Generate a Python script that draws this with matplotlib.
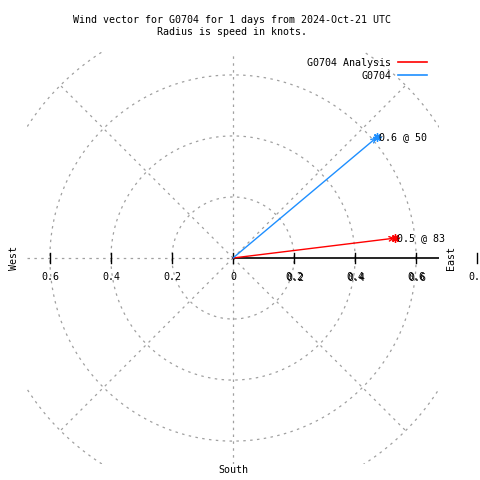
import numpy as np
import matplotlib.pyplot as plt

# wind vectors: speed in knots, direction in degrees (clockwise from north)
names = ['G0704 Analysis', 'G0704']
speeds = [0.535, 0.615]
directions = [83, 50]
colors = ['#ff0000', '#1e8fff']

rings = [0.2, 0.4, 0.6, 0.8]
left_ticks = [0.6, 0.4, 0.2]
r_ticks = [0, 0.2, 0.4, 0.6, 0.8]

title = 'Wind vector for G0704 for 1 days from 2024-Oct-21 UTC\nRadius is speed in knots.'

plt.rcParams['font.family'] = 'DejaVu Sans Mono'
fs = 7.2
grid_kw = dict(color='#a0a0a0', lw=0.9, ls=(0, (2, 3.5)))


def main():
    fig = plt.figure(figsize=(4.8, 4.8), dpi=100)
    ax = fig.add_axes([27 / 480, 16 / 480, 412 / 480, 412 / 480])
    lim = 0.675
    ax.set_xlim(-lim, lim)
    ax.set_ylim(-lim, lim)
    ax.set_aspect('equal')
    ax.axis('off')

    # polar grid
    t = np.linspace(0, 2 * np.pi, 400)
    for r in rings:
        ax.plot(r * np.cos(t), r * np.sin(t), **grid_kw)
    for a in [45, 135, 225, 315]:
        a = np.radians(a)
        ax.plot([0, 0.8 * np.cos(a)], [0, 0.8 * np.sin(a)], **grid_kw)
    ax.plot([0, 0], [-lim, lim], **grid_kw)
    ax.plot([-lim, 0], [0, 0], **grid_kw)

    # axis line east and ticks
    ax.plot([0, lim], [0, 0], color='black', lw=1.2)
    tk = 0.016
    for x in left_ticks:
        ax.plot([-x, -x], [-tk, tk], color='black', lw=1)
        ax.text(-x, -0.062, str(x), fontsize=fs, ha='center', va='center')
    for x in r_ticks:
        ax.plot([x, x], [-tk, tk], color='black', lw=1, clip_on=False)
        lbl = '0' if x == 0 else str(x)
        ax.text(x, -0.062, lbl, fontsize=fs, ha='center', va='center', clip_on=False)
        if 0 < x < 0.8:
            ax.text(x + 0.003, -0.064, lbl, fontsize=fs, ha='center', va='center')

    ax.text(-0.716, 0, 'West', rotation=90, fontsize=fs, ha='center', va='center')
    ax.text(0.713, 0, 'East', rotation=90, fontsize=fs, ha='center', va='center', clip_on=False)
    ax.text(0, -0.694, 'South', fontsize=fs, ha='center', va='center', clip_on=False)

    # vectors
    for s, d, c in zip(speeds, directions, colors):
        u = s * np.sin(np.radians(d))
        v = s * np.cos(np.radians(d))
        ax.annotate('', xy=(u, v), xytext=(0, 0),
                    arrowprops=dict(arrowstyle='->', color=c, lw=1, shrinkA=0, shrinkB=0,
                                    mutation_scale=8))
        ax.plot(u, v, marker=(8, 2, 0), color=c, ms=6, mew=1)
        ax.text(u + 0.008, v, f'{s:.1f} @ {d}', fontsize=fs, ha='left', va='center')

    # legend
    for i, (n, c) in enumerate(zip(names, colors)):
        y = 1 - (63 + 13 * i) / 480
        fig.text(391 / 480, y, n, fontsize=fs, ha='right', va='center')
        fig.add_artist(plt.Line2D([398 / 480, 427 / 480], [y + 1 / 480, y + 1 / 480],
                                  color=c, lw=1.2))

    fig.text(232 / 480, 1 - 26 / 480, title, fontsize=fs, ha='center', va='center',
             linespacing=1.3)

    fig.savefig('out.png', dpi=100)


if __name__ == '__main__':
    main()
